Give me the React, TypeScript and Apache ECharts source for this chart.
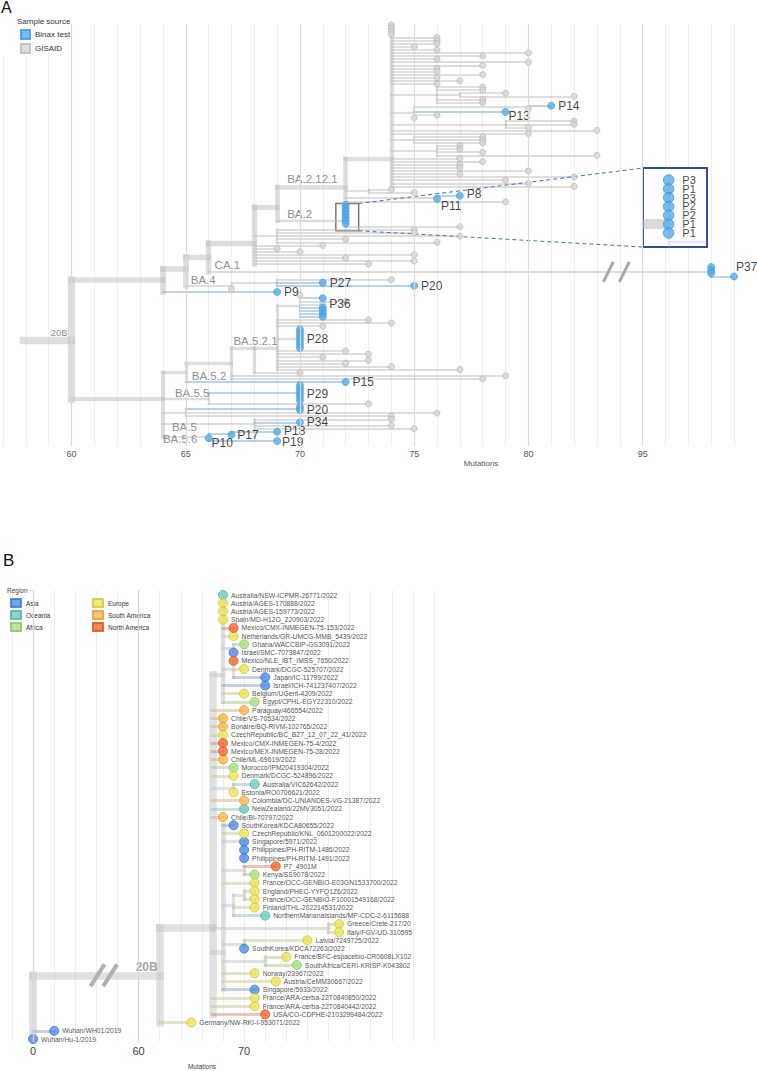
import React, { useEffect, useRef } from 'react';
import * as echarts from 'echarts';

type Node = [string, string, number, string, string?];
type Group = [string, string, number[], string[]?];

const FONT = '"Liberation Sans", Arial, Helvetica, sans-serif';

// ================= Panel A : Sample source tree =================
// [id, parent, mutations, source ('' internal, 'b' Binax test, 'g' GISAID), label]
const backboneA: Node[] = [
  ['R0', '', 57.9, ''],
  ['R', 'R0', 60, ''],
  ['U', 'R', 64, ''],
  ['U1', 'U', 65, ''],
  ['U2', 'U1', 66, ''],
  ['U3', 'U2', 68, ''],
  ['U4', 'U3', 69, ''],
  ['N72', 'U4', 72, ''],
  ['N74', 'N72', 74, ''],
  ['Na', 'N74', 76, ''],
  ['Nb', 'Na', 77, ''],
  ['Nc', 'N74', 75, ''],
  ['Nd', 'Nc', 80, ''],
  ['Ne', 'N74', 79, ''],
  ['Nf', 'N74', 75, ''],
  ['Ng', 'N74', 76, ''],
  ['N73', 'N72', 73, ''],
  ['N76', 'N72', 76, ''],
  ['B2', 'U4', 72, ''],
  ['U5', 'U3', 69, ''],
  ['CA1', 'U2', 98, ''],
  ['B4a', 'U1', 67, ''],
  ['B4b', 'B4a', 69, ''],
];
const backboneA5: Node[] = [
  ['L', 'R', 64, ''],
  ['L1', 'L', 65, ''],
  ['L2', 'L1', 67, ''],
  ['L3', 'L2', 68, ''],
  ['L4', 'L3', 69, ''],
  ['P36n', 'L4', 70, ''],
  ['P28n', 'L4', 70, ''],
  ['B55', 'L', 66, ''],
  ['P29n', 'B55', 70, 'b'],
  ['L5', 'L', 65, ''],
  ['P20n', 'L5', 70, 'b'],
  ['B5', 'L', 68, ''],
  ['B56', 'L', 66, ''],
  ['B56a', 'B56', 67, 'b'],
];
// tips listed top to bottom: [parent, source, mutations[], labels[]]
const groupsBA2121: Group[] = [
  ['N74', 'g', [74, 74, 74, 74, 76, 76, 76, 75, 76, 80, 78, 76, 80, 78, 76, 76, 78, 76, 77, 76]],
  ['Na', 'g', [78, 78]],
  ['Nb', 'g', [79, 82]],
  ['Na', 'g', [78, 78]],
  ['Nd', 'b', [81], ['P14']],
  ['Nd', 'g', [80]],
  ['Nc', 'b', [79], ['P13']],
  ['Nc', 'g', [76, 75]],
  ['Ne', 'g', [82, 82, 80]],
  ['N74', 'g', [83, 80]],
  ['Nf', 'g', [78, 78, 78]],
  ['Ng', 'g', [77, 77, 78, 83]],
  ['N74', 'g', [77, 78, 77, 77, 80, 77, 82, 79, 80, 82]],
  ['N73', 'g', [74, 75]],
  ['N76', 'b', [77, 76], ['P8', 'P11']],
  ['N72', 'g', [79]],
];
const groupsBA2: Group[] = [
  ['B2', 'b', [72, 72, 72, 72, 72, 72, 72], ['P3', 'P1', 'P3', 'P2', 'P2', 'P1', 'P1']],
  ['B2', 'g', [77]],
  ['U5', 'g', [75, 75, 77, 72, 76]],
  ['U3', 'g', [71, 69, 70, 75, 72, 75, 73]],
  ['CA1', 'b', [98, 98, 98, 99], ['', '', '', 'P37']],
  ['B4b', 'g', [74]],
  ['B4b', 'b', [71, 75], ['P27', 'P20']],
  ['B4a', 'g', [67]],
  ['U', 'b', [69], ['P9']],
];
const groupsBA5: Group[] = [
  ['P36n', 'g', [70]],
  ['P36n', 'b', [71]],
  ['P36n', 'g', [72, 71], ['', 'P36']],
  ['P36n', 'b', [71, 71, 71, 71]],
  ['L4', 'g', [73, 74, 71]],
  ['P28n', 'b', [70, 70, 70, 70, 70, 70, 70], ['', '', '', 'P28', '', '', '']],
  ['L4', 'g', [72, 73, 71, 73, 72, 74, 77]],
  ['L3', 'g', [70]],
  ['L2', 'g', [79, 78]],
  ['L1', 'b', [72], ['P15']],
  ['P29n', 'b', [70, 70, 70, 70, 70, 70], ['', '', '', 'P29', '', '']],
  ['B55', 'g', [73]],
  ['P20n', 'b', [70, 70], ['', 'P20']],
  ['L5', 'g', [76, 74]],
  ['B5', 'g', [74]],
  ['B5', 'b', [70], ['P34']],
  ['B5', 'g', [74, 75]],
  ['B56a', 'b', [69, 67], ['P18', 'P17']],
  ['B56', 'b', [66, 69], ['P10', 'P19']],
];
// vertical placement (tip-row units) of internal nodes where it departs from the mid-point
const rowOverrideA: Record<string, number> = {
  N74: 43.2, N72: 52.2, U4: 58.6, U3: 70.2, U2: 74.7, U1: 78.6, U: 82.1,
  R: 101.4, L: 120.5, B2: 63, L4: 104, L3: 104,
};
// clade label, node (or tip label) whose branch carries it
const cladeLabelsA: [string, string][] = [
  ['20B', 'R'], ['BA.2.12.1', 'N72'], ['BA.2', 'B2'], ['CA.1', 'CA1'], ['BA.4', 'B4a'],
  ['BA.5.2.1', 'L3'], ['BA.5.2', 'P15'], ['BA.5.5', 'B55'], ['BA.5', 'B5'], ['BA.5.6', 'B56'],
];
const tickValuesA = [60, 65, 70, 75, 80, 95];
const sourceNames = ['Binax test', 'GISAID'];

// ================= Panel B : Region tree =================
const backboneB: Node[] = [
  ['r', '', 0, ''],
  ['n20B', 'r', 62, ''],
  ['N1', 'n20B', 67, ''],
  ['N2', 'N1', 68, ''],
  ['N2b', 'N2', 69, ''],
  ['N2c', 'N2', 69, ''],
  ['N3', 'N1', 69, ''],
  ['N4', 'N1', 68, ''],
  ['N5', 'N4', 70, ''],
  ['N6', 'N4', 70, ''],
  ['N7', 'N4', 69, ''],
  ['N8', 'N7', 70, ''],
  ['N11', 'N1', 78, ''],
  ['N9', 'N4', 70, ''],
  ['N10', 'N4', 72, ''],
];
const tipsB1: Node[] = [
  ['', 'N2', 68, 'Oc', 'Australia/NSW-ICPMR-26771/2022'],
  ['', 'N2', 68, 'Eu', 'Austria/AGES-170888/2022'],
  ['', 'N2', 68, 'Eu', 'Austria/AGES-159773/2022'],
  ['', 'N2', 68, 'Eu', 'Spain/MD-H12O_220903/2022'],
  ['', 'N2', 69, 'NA', 'Mexico/CMX-INMEGEN-75-153/2022'],
  ['', 'N2', 69, 'Eu', 'Netherlands/GR-UMCG-MMB_5439/2022'],
  ['', 'N2b', 70, 'Af', 'Ghana/WACCBIP-GS3091/2022'],
  ['', 'N2b', 69, 'As', 'Israel/SMC-7073847/2022'],
  ['', 'N2c', 69, 'NA', 'Mexico/NLE_IBT_IMSS_7650/2022'],
  ['', 'N2c', 70, 'Eu', 'Denmark/DCGC-525707/2022'],
  ['', 'N2c', 72, 'As', 'Japan/IC-11799/2022'],
  ['', 'N2', 72, 'As', 'Israel/ICH-741237407/2022'],
  ['', 'N2', 70, 'Eu', 'Belgium/UGent-4209/2022'],
  ['', 'N2', 71, 'Af', 'Egypt/CPHL-EGY22310/2022'],
];
const tipsB2: Node[] = [
  ['', 'N1', 70, 'SA', 'Paraguay/466554/2022'],
  ['', 'N1', 68, 'SA', 'Chile/VS-70534/2022'],
  ['', 'N1', 68, 'SA', 'Bonaire/BQ-RIVM-102765/2022'],
  ['', 'N1', 68, 'Eu', 'CzechRepublic/BC_B27_12_07_22_41/2022'],
  ['', 'N1', 68, 'NA', 'Mexico/CMX-INMEGEN-75-4/2022'],
  ['', 'N1', 68, 'NA', 'Mexico/MEX-INMEGEN-75-28/2022'],
  ['', 'N1', 68, 'SA', 'Chile/ML-69619/2022'],
  ['', 'N1', 69, 'Af', 'Morocco/IPM20419304/2022'],
  ['', 'N1', 69, 'Eu', 'Denmark/DCGC-524896/2022'],
  ['', 'N3', 71, 'Oc', 'Australia/VIC62642/2022'],
  ['', 'N3', 69, 'Eu', 'Estonia/RO0706621/2022'],
  ['', 'N1', 70, 'SA', 'Colombia/DC-UNIANDES-VG-21387/2022'],
  ['', 'N1', 70, 'Oc', 'NewZealand/22MV3051/2022'],
  ['', 'N1', 68, 'SA', 'Chile/BI-70797/2022'],
];
const tipsB3: Node[] = [
  ['', 'N4', 69, 'As', 'SouthKorea/KDCA80655/2022'],
  ['', 'N4', 70, 'Eu', 'CzechRepublic/KNL_0601200022/2022'],
  ['', 'N5', 70, 'As', 'Singapore/5971/2022'],
  ['', 'N5', 70, 'As', 'Philippines/PH-RITM-1486/2022'],
  ['', 'N5', 70, 'As', 'Philippines/PH-RITM-1491/2022'],
  ['', 'N6', 73, 'NA', 'P7_4901M'],
  ['', 'N6', 71, 'Af', 'Kenya/SS9078/2022'],
  ['', 'N4', 71, 'Eu', 'France/OCC-GENBIO-E03GN1533700/2022'],
  ['', 'N8', 71, 'Eu', 'England/PHEC-YYFQ1Z6/2022'],
  ['', 'N8', 71, 'Eu', 'France/OCC-GENBIO-F10001549168/2022'],
  ['', 'N7', 71, 'Eu', 'Finland/THL-202214531/2022'],
  ['', 'N7', 72, 'Oc', 'NorthernMarianaIslands/MP-CDC-2-6115688'],
  ['', 'N11', 79, 'Eu', 'Greece/Crete-217/20'],
  ['', 'N11', 79, 'Eu', 'Italy/FGV-UD-310595'],
  ['', 'N9', 76, 'Eu', 'Latvia/7249725/2022'],
  ['', 'N9', 70, 'As', 'SouthKorea/KDCA72263/2022'],
  ['', 'N10', 74, 'Eu', 'France/BFC-espacebio-CR0608LX102'],
  ['', 'N10', 75, 'Af', 'SouthAfrica/CERI-KRISP-K043802'],
  ['', 'N4', 71, 'Eu', 'Norway/23967/2022'],
  ['', 'N4', 73, 'Eu', 'Austria/CeMM30667/2022'],
  ['', 'N4', 71, 'As', 'Singapore/5933/2022'],
];
const tipsB4: Node[] = [
  ['', 'N1', 71, 'Eu', 'France/ARA-cerba-22T0840850/2022'],
  ['', 'N1', 71, 'Eu', 'France/ARA-cerba-22T0840442/2022'],
  ['', 'N1', 72, 'NA', 'USA/CO-CDPHE-2103299484/2022'],
  ['', 'n20B', 65, 'Eu', 'Germany/NW-RKI-I-953071/2022'],
  ['', 'r', 2, 'As', 'Wuhan/WH01/2019'],
  ['', 'r', 0, 'As', 'Wuhan/Hu-1/2019'],
];
const rowOverrideB: Record<string, number> = { N1: 40.5, N4: 43.4, N2: 9.7, N5: 30 };
const tickValuesB = [0, 60, 70];
const regionCodes = ['As', 'Oc', 'Af', 'Eu', 'SA', 'NA'];
const regionNames = ['Asia', 'Oceania', 'Africa', 'Europe', 'South America', 'North America'];

// ================= styles =================
const GRAY_BRANCH = '#bebebe';
const BLUE_BRANCH = '#6da5d9';
const BLUE_TIP = '#55abeb';
const BLUE_TIP_BORDER = '#3e95d8';
const GRAY_TIP = '#d6d6d6';
const GRAY_TIP_BORDER = '#b8b8b8';
const regionFill: Record<string, string> = { As: '#4f8fe6', Oc: '#6ccfc1', Af: '#a8e27e', Eu: '#efe556', SA: '#fbb64a', NA: '#f5682f' };
const regionBorder: Record<string, string> = { As: '#3a77cc', Oc: '#4fb2a4', Af: '#8bc463', Eu: '#cdc43a', SA: '#dd9a30', NA: '#d6521c' };
const regionBranch: Record<string, string> = { As: '#87a4d3', Oc: '#8dc2b9', Af: '#a8c592', Eu: '#c9c88b', SA: '#dab27d', NA: '#d88d70' };
const tipLabelNudgeA: Record<string, number[]> = { P13: [-4, 4], P11: [-3, 7], P8: [0, -2], P37: [-5, -9], P10: [-4, 5], P19: [-2, 1], P17: [-1, 0], P18: [0, -1] };
const cladeStyleA: Record<string, { pos: string; off: number[]; size?: number }> = {
  '20B': { pos: 'left', off: [-4, -7], size: 9.5 },
  'BA.2.12.1': { pos: 'right', off: [10, -8] },
  'BA.2': { pos: 'right', off: [10, -7] },
  'CA.1': { pos: 'right', off: [6, -7] },
  'BA.4': { pos: 'right', off: [5, -6] },
  'BA.5.2.1': { pos: 'right', off: [2, -7] },
  'BA.5.2': { pos: 'right', off: [6, -6] },
  'BA.5.5': { pos: 'right', off: [12, -5] },
  'BA.5': { pos: 'right', off: [9, 3] },
  'BA.5.6': { pos: 'right', off: [0, 2] },
};
const insetBoxA = { x0: 71.57, x1: 72.57, y0: 57.5, y1: 66.3 };
const insetRect = { x: 643, y: 168, w: 64, h: 79 };
const breaksA = [83.5, 84.2];
const breaksB = [6.1, 7.3];

const disA = (v: number) => (v >= 90 ? v - 10 : v);
const invA = (d: number) => (d >= 85 ? d + 10 : d);
const disB = (v: number) => (v >= 50 ? v - 50 : v);
const invB = (d: number) => (d >= 10 ? d + 50 : d);

interface TNode { id: string; parent: string; mut: number; src: string; label: string; children: TNode[]; y: number; n: number; }

function expandGroups(groups: Group[]): Node[] {
  const out: Node[] = [];
  groups.forEach(([parent, src, vals, labels]) => {
    vals.forEach((v, i) => out.push(['', parent, v, src, labels ? labels[i] || '' : '']));
  });
  return out;
}

function layoutTree(nodes: Node[], rowOverride: Record<string, number>) {
  const list: TNode[] = nodes.map((d, i) => ({
    id: d[0] || 'tip' + i, parent: d[1], mut: d[2], src: d[3], label: d[4] || '', children: [], y: 0, n: 0,
  }));
  const byId: Record<string, TNode> = {};
  list.forEach((d) => { byId[d.id] = d; });
  list.forEach((d) => { if (d.parent) byId[d.parent].children.push(d); });
  let row = 0;
  list.forEach((d) => { if (d.children.length === 0) { d.y = row++; d.n = 1; } });
  const calc = (d: TNode) => {
    if (!d.children.length) return;
    d.children.forEach(calc);
    d.n = d.children.reduce((s, c) => s + c.n, 0);
    const ys = d.children.map((c) => c.y);
    d.y = rowOverride[d.id] !== undefined ? rowOverride[d.id] : (Math.min(...ys) + Math.max(...ys)) / 2;
  };
  list.filter((d) => !d.parent).forEach(calc);
  return { list, byId, leaves: row };
}

function buildEdges(list: TNode[], byId: Record<string, TNode>, disp: (v: number) => number,
  widthFn: (n: number) => number, colorFn: (d: TNode) => string, gray: string) {
  const out: any[] = [];
  list.forEach((d) => {
    const w = widthFn(d.n);
    const c = colorFn(d);
    if (d.children.length) {
      const ys = d.children.map((k) => k.y).concat([d.y]);
      const lo = Math.min(...ys);
      const hi = Math.max(...ys);
      if (hi - lo > 1e-6) {
        out.push({ coords: [[disp(d.mut), lo], [disp(d.mut), hi]], lineStyle: { width: w, color: c, cap: 'square' }, _k: c === gray ? 0 : 1, _w: w });
      }
    }
    if (d.parent) {
      const p = byId[d.parent];
      if (disp(d.mut) !== disp(p.mut)) {
        out.push({ coords: [[disp(p.mut), d.y], [disp(d.mut), d.y]], lineStyle: { width: w, color: c, cap: 'square' }, _k: c === gray ? 0 : 1, _w: w });
      }
    }
  });
  out.sort((a, b) => (a._k - b._k) || (b._w - a._w));
  return out.map((e) => ({ coords: e.coords, lineStyle: e.lineStyle }));
}

export default function App() {
  const ref = useRef<HTMLDivElement>(null);
  useEffect(() => {
    const el = ref.current as HTMLDivElement;
    const chart = echarts.init(el, null, { renderer: 'svg' });

    // ----- Panel A layout -----
    const nodesA: Node[] = [...backboneA, ...backboneA5, ...expandGroups(groupsBA2121), ...expandGroups(groupsBA2), ...expandGroups(groupsBA5)];
    const A = layoutTree(nodesA, rowOverrideA);
    const NA_ = A.leaves;
    const widthA = (n: number) => 1.8 + 5.6 * Math.pow(n / NA_, 0.85);
    const edgesA = buildEdges(A.list, A.byId, disA, widthA, (d) => (d.src === 'b' ? BLUE_BRANCH : GRAY_BRANCH), GRAY_BRANCH);
    const leavesA = A.list.filter((d) => d.children.length === 0);
    const mkTipA = (d: TNode) => ({
      name: d.label,
      value: [disA(d.mut), d.y],
      label: { show: !!d.label && d.parent !== 'B2', offset: tipLabelNudgeA[d.label] || [0, 0] },
    });
    const grayTipsA = leavesA.filter((d) => d.src === 'g').map(mkTipA);
    const blueTipsA = leavesA.filter((d) => d.src === 'b').map(mkTipA);
    const findA = (key: string) => A.byId[key] || A.list.find((d) => d.label === key) as TNode;
    const cladeDataA = cladeLabelsA.map(([txt, key]) => {
      const nd = findA(key);
      const st = cladeStyleA[txt];
      const anchorX = st.pos === 'left' ? disA(nd.mut) : disA(A.byId[nd.parent].mut);
      return {
        name: txt, value: [anchorX, nd.y],
        label: { position: st.pos, offset: st.off, fontSize: st.size || 11.5 },
      };
    });
    // inset (zoom of the BA.2 cluster)
    const b2 = A.byId['B2'];
    const clampX = (v: number) => Math.max(71.2, Math.min(73.2, v));
    const insetEdges: any[] = [
      { coords: [[clampX(disA(A.byId[b2.parent].mut)), b2.y], [disA(b2.mut), b2.y]], lineStyle: { width: 10, color: '#b4b4b4' } },
    ];
    const b2ys = b2.children.map((c) => c.y);
    insetEdges.push({ coords: [[disA(b2.mut), Math.min(...b2ys) - 0.6], [disA(b2.mut), Math.max(...b2ys) + 0.6]], lineStyle: { width: 1.5, color: '#c4c4c4' } });
    b2.children.filter((c) => c.src === 'g').forEach((c) => {
      insetEdges.push({ coords: [[disA(b2.mut), c.y], [clampX(disA(c.mut)), c.y]], lineStyle: { width: 1.5, color: '#c4c4c4' } });
    });
    const insetTips = b2.children.filter((c) => c.src === 'b').map((c) => ({ name: c.label, value: [disA(c.mut), c.y] }));

    // ----- Panel B layout -----
    const nodesB: Node[] = [...backboneB, ...tipsB1, ...tipsB2, ...tipsB3, ...tipsB4];
    const B = layoutTree(nodesB, rowOverrideB);
    const NB_ = B.leaves;
    const widthB = (n: number) => 2.8 + 5 * Math.pow(n / NB_, 0.8);
    const edgesB = buildEdges(B.list, B.byId, disB, widthB, (d) => (d.children.length ? '#c3c3c3' : regionBranch[d.src]), '#c3c3c3');
    const leavesB = B.list.filter((d) => d.children.length === 0);
    const n20B = B.byId['n20B'];

    const majorA = tickValuesA.map(disA);
    const majorB = [disB(0), disB(60)];

    const regionSeries = regionCodes.map((code, i) => ({
      type: 'scatter', name: regionNames[i], xAxisIndex: 1, yAxisIndex: 1, z: 4, silent: true,
      symbolSize: 9,
      itemStyle: { color: regionFill[code], borderColor: regionBorder[code], borderWidth: 1 },
      label: { show: true, position: 'right', distance: 3, fontSize: 6.8, color: '#222', formatter: '{b}' },
      data: leavesB.filter((d) => d.src === code).map((d) => ({ name: d.label, value: [disB(d.mut), d.y] })),
    }));

    const option: any = {
      animation: false,
      backgroundColor: '#ffffff',
      textStyle: { fontFamily: FONT },
      grid: [
        { left: -2, right: 23, top: 24, bottom: 625 },
        { left: 12, right: 323, top: 590, bottom: 29 },
        { left: insetRect.x, top: insetRect.y, width: insetRect.w, height: insetRect.h },
      ],
      xAxis: [
        {
          gridIndex: 0, type: 'value', min: 57, max: 89, interval: 1,
          axisLine: { show: false }, axisTick: { show: false },
          axisLabel: { fontSize: 9, color: '#555', margin: 3, formatter: (v: number) => (tickValuesA.includes(invA(v)) ? String(invA(v)) : '') },
          splitLine: { show: true, lineStyle: { color: '#efefef', width: 1 } },
        },
        {
          gridIndex: 1, type: 'value', min: -2, max: 38, interval: 2,
          axisLine: { show: false }, axisTick: { show: false },
          axisLabel: { fontSize: 11, color: '#444', margin: 3, formatter: (v: number) => (tickValuesB.includes(invB(v)) ? String(invB(v)) : '') },
          splitLine: { show: true, lineStyle: { color: '#eeeeee', width: 1 } },
        },
        { gridIndex: 2, type: 'value', min: 71.2, max: 73.2, show: false },
      ],
      yAxis: [
        { gridIndex: 0, type: 'value', inverse: true, min: -0.3, max: 135.6, show: false },
        { gridIndex: 1, type: 'value', inverse: true, min: -0.61, max: 54.36, show: false },
        { gridIndex: 2, type: 'value', inverse: true, min: 56.64, max: 65.59, show: false },
      ],
      legend: [
        {
          data: sourceNames, left: 20, top: 29, orient: 'vertical', icon: 'rect', itemWidth: 9, itemHeight: 9, itemGap: 3,
          padding: 0, selectedMode: false, textStyle: { fontSize: 8, color: '#333' },
        },
        {
          data: regionNames.slice(0, 3), left: 10, top: 598, orient: 'vertical', icon: 'rect', itemWidth: 10, itemHeight: 8, itemGap: 2,
          padding: 0, selectedMode: false, textStyle: { fontSize: 6.5, color: '#333' },
        },
        {
          data: regionNames.slice(3), left: 92, top: 598, orient: 'vertical', icon: 'rect', itemWidth: 10, itemHeight: 8, itemGap: 2,
          padding: 0, selectedMode: false, textStyle: { fontSize: 6.5, color: '#333' },
        },
      ],
      series: [
        {
          type: 'scatter', name: 'majorA', xAxisIndex: 0, yAxisIndex: 0, data: [[60, 500]], symbolSize: 0, silent: true, z: 1,
          markLine: { silent: true, symbol: 'none', label: { show: false }, lineStyle: { color: '#dadada', width: 1.2, type: 'solid' }, data: majorA.map((v) => ({ xAxis: v })) },
        },
        {
          type: 'lines', name: 'branchesA', coordinateSystem: 'cartesian2d', xAxisIndex: 0, yAxisIndex: 0, z: 2, silent: true,
          data: edgesA,
        },
        {
          type: 'scatter', name: 'GISAID', xAxisIndex: 0, yAxisIndex: 0, z: 3, silent: true, symbolSize: 6,
          itemStyle: { color: GRAY_TIP, borderColor: GRAY_TIP_BORDER, borderWidth: 1 },
          label: { position: 'right', distance: 3, fontSize: 12, color: '#111', formatter: '{b}' },
          data: grayTipsA,
          markArea: {
            silent: true,
            itemStyle: { color: 'rgba(0,0,0,0)', borderColor: '#7a7a7a', borderWidth: 1.5 },
            data: [[{ coord: [insetBoxA.x0, insetBoxA.y0] }, { coord: [insetBoxA.x1, insetBoxA.y1] }]],
          },
        },
        {
          type: 'scatter', name: 'Binax test', xAxisIndex: 0, yAxisIndex: 0, z: 3, silent: true, symbolSize: 7,
          itemStyle: { color: BLUE_TIP, borderColor: BLUE_TIP_BORDER, borderWidth: 0.8 },
          label: { position: 'right', distance: 3, fontSize: 12, color: '#111', formatter: '{b}' },
          data: blueTipsA,
        },
        {
          type: 'scatter', name: 'cladesA', xAxisIndex: 0, yAxisIndex: 0, z: 4, silent: true, symbolSize: 0,
          label: { show: true, distance: 0, color: '#707070', formatter: '{b}' },
          data: cladeDataA,
        },
        {
          type: 'lines', name: 'insetLines', coordinateSystem: 'cartesian2d', xAxisIndex: 2, yAxisIndex: 2, z: 5, silent: true,
          data: insetEdges,
        },
        {
          type: 'scatter', name: 'insetTips', xAxisIndex: 2, yAxisIndex: 2, z: 6, silent: true, symbolSize: 10.5,
          itemStyle: { color: BLUE_TIP, borderColor: BLUE_TIP_BORDER, borderWidth: 1 },
          label: { show: true, position: 'right', distance: 8, fontSize: 11, lineHeight: 11, color: '#111', formatter: '{b}' },
          data: insetTips,
        },
        {
          type: 'scatter', name: 'majorB', xAxisIndex: 1, yAxisIndex: 1, data: [[0, 500]], symbolSize: 0, silent: true, z: 1,
          markLine: { silent: true, symbol: 'none', label: { show: false }, lineStyle: { color: '#d6d6d6', width: 1.3, type: 'solid' }, data: majorB.map((v) => ({ xAxis: v })) },
        },
        {
          type: 'lines', name: 'branchesB', coordinateSystem: 'cartesian2d', xAxisIndex: 1, yAxisIndex: 1, z: 2, silent: true,
          data: edgesB,
        },
        ...regionSeries,
        {
          type: 'scatter', name: 'cladesB', xAxisIndex: 1, yAxisIndex: 1, z: 4, silent: true, symbolSize: 0,
          label: { show: true, position: 'left', distance: 0, offset: [-2, -8], fontSize: 12, fontWeight: 'bold', color: '#8d8d8d', formatter: '{b}' },
          data: [{ name: '20B', value: [disB(n20B.mut), n20B.y] }],
        },
      ],
    };
    chart.setOption(option);

    const px = (g: number, p: number[]) => chart.convertToPixel({ gridIndex: g } as any, p) as unknown as number[];
    const ca1 = A.byId['CA1'];
    const boxTop = px(0, [insetBoxA.x1, insetBoxA.y0]);
    const boxBot = px(0, [insetBoxA.x1, insetBoxA.y1]);
    const graphics: any[] = [
      { type: 'rect', z: 3, silent: true, shape: { x: 0, y: 0, width: 78, height: 56 }, style: { fill: '#ffffff' } },
      { type: 'rect', z: 3, silent: true, shape: { x: insetRect.x, y: insetRect.y, width: insetRect.w, height: insetRect.h }, style: { fill: '#ffffff', stroke: '#2f4f95', lineWidth: 2 } },
      { type: 'line', z: 3, silent: true, shape: { x1: boxTop[0], y1: boxTop[1], x2: insetRect.x, y2: insetRect.y }, style: { stroke: '#3b6fd6', lineWidth: 1, lineDash: [4, 3] } },
      { type: 'line', z: 3, silent: true, shape: { x1: boxBot[0], y1: boxBot[1], x2: insetRect.x, y2: insetRect.y + insetRect.h }, style: { stroke: '#3b6fd6', lineWidth: 1, lineDash: [4, 3] } },
      { type: 'text', z: 10, x: 1, y: -1, style: { text: 'A', fontSize: 16, fill: '#111', fontFamily: FONT } },
      { type: 'text', z: 10, x: 17, y: 17, style: { text: 'Sample source', fontSize: 8, fill: '#333', fontFamily: FONT } },
      { type: 'text', z: 10, x: 481, y: 459, style: { text: 'Mutations', fontSize: 8, fill: '#555', align: 'center', fontFamily: FONT } },
      { type: 'text', z: 10, x: 3, y: 552, style: { text: 'B', fontSize: 17, fill: '#111', fontFamily: FONT } },
      { type: 'text', z: 10, x: 7, y: 587, style: { text: 'Region ·', fontSize: 6.5, fill: '#444', fontFamily: FONT } },
      { type: 'text', z: 10, x: 202, y: 1063, style: { text: 'Mutations', fontSize: 6.5, fill: '#444', align: 'center', fontFamily: FONT } },
    ];
    breaksA.forEach((bx) => {
      const c = px(0, [bx, ca1.y]);
      graphics.push({ type: 'line', z: 4, silent: true, shape: { x1: c[0] - 5, y1: c[1] + 10, x2: c[0] + 5, y2: c[1] - 10 }, style: { stroke: '#a8a8a8', lineWidth: 3 } });
    });
    breaksB.forEach((bx) => {
      const c = px(1, [bx, n20B.y]);
      graphics.push({ type: 'line', z: 4, silent: true, shape: { x1: c[0] - 7, y1: c[1] + 11, x2: c[0] + 7, y2: c[1] - 11 }, style: { stroke: '#b0b0b0', lineWidth: 4 } });
    });
    chart.setOption({ graphic: graphics });

    return () => { chart.dispose(); };
  }, []);
  return <div ref={ref} style={{ position: 'absolute', left: 0, top: 0, width: 757, height: 1071 }} />;
}
